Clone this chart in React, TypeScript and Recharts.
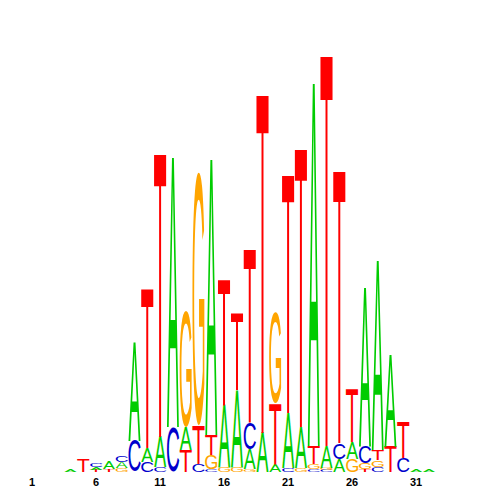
import { Bar, BarChart, XAxis, YAxis } from "recharts";

const positions = [
  1, 2, 3, 4, 5, 6, 7, 8, 9, 10, 11, 12, 13, 14, 15, 16, 17, 18, 19, 20, 21,
  22, 23, 24, 25, 26, 27, 28, 29, 30, 31, 32, 33, 34, 35, 36, 37,
];
const heightA = [
  0, 0, 0, 0.02, 0, 0.03, 0.07, 0.06, 0.98, 0.14, 0.3, 2.69, 0.23, 0, 2.75,
  0.62, 0.77, 0.2, 0.39, 0.08, 0.55, 0.41, 3.62, 0.22, 0.13, 0.17, 1.58, 1.89,
  0.92, 0, 0.03, 0.02, 0, 0, 0, 0, 0,
];
const heightC = [
  0, 0, 0, 0, 0, 0.04, 0, 0.07, 0.31, 0.1, 0.05, 0.45, 0, 0.08, 0.03, 0, 0,
  0.26, 0, 0, 0.04, 0, 0.03, 0.02, 0.16, 0, 0.17, 0.05, 0, 0.14, 0, 0, 0, 0, 0,
  0, 0,
];
const heightG = [
  0, 0, 0, 0, 0, 0, 0, 0.04, 0, 0, 0, 0, 1.17, 2.54, 0.14, 0.05, 0.05, 0.03, 0,
  0.91, 0, 0.04, 0.05, 0.02, 0, 0.13, 0.06, 0.07, 0, 0, 0, 0, 0, 0, 0, 0, 0,
];
const heightT = [
  0, 0, 0, 0, 0.13, 0.02, 0.03, 0, 0, 1.59, 2.82, 0, 0.22, 0.38, 0.2, 1.25,
  0.77, 1.73, 3.37, 0.6, 2.37, 2.77, 0.18, 3.89, 2.71, 0.52, 0.03, 0.1, 0.25,
  0.36, 0, 0, 0, 0, 0, 0, 0,
];
const tickLabels = ["1", "6", "11", "16", "21", "26", "31"];

const COLORS: Record<string, string> = {
  A: "#00cc00",
  C: "#0000cc",
  G: "#ffa500",
  T: "#ff0000",
};

// Liberation Sans glyph boxes (font units, 2048/em)
const GLYPH: Record<string, [number, number, number, number]> = {
  A: [-3, 0, 1369, 1409],
  C: [103, -25, 1382, 1434],
  G: [110, -25, 1458, 1434],
  T: [50, 0, 1202, 1409],
};

const LAYERS = [0, 1, 2, 3];

// stack letters smallest at the bottom
const rows = positions.map((pos, i) => {
  const letters = [
    ["A", heightA[i]],
    ["C", heightC[i]],
    ["G", heightG[i]],
    ["T", heightT[i]],
  ] as [string, number][];
  letters.sort((a, b) => a[1] - b[1]);
  const row: Record<string, any> = { pos };
  letters.forEach(([l, h], k) => {
    row[`h${k}`] = h;
    row[`l${k}`] = l;
  });
  return row;
});

function letterShape(layer: number) {
  return (props: any) => {
    const { x, y, width, height, payload } = props;
    const letter = payload?.[`l${layer}`];
    if (!letter || !height || height < 0.3) return <g />;
    const [x0, y0, x1, y1] = GLYPH[letter];
    const fs = 100;
    const k = fs / 2048;
    const sx = width / ((x1 - x0) * k);
    const sy = height / ((y1 - y0) * k);
    return (
      <text
        x={0}
        y={0}
        fontSize={fs}
        fontFamily="Liberation Sans, Arial, sans-serif"
        fill={COLORS[letter]}
        transform={`translate(${x},${y + height}) scale(${sx},${sy}) translate(${-x0 * k},${y0 * k})`}
      >
        {letter}
      </text>
    );
  };
}

export default function App() {
  return (
    <div style={{ position: "absolute", left: 0, top: 0, width: 500, height: 500, background: "#fff" }}>
      <BarChart
        width={500}
        height={500}
        data={rows}
        barCategoryGap="4%"
        margin={{ top: 22, right: 0.8, left: 25.6, bottom: 8 }}
      >
        <XAxis
          dataKey="pos"
          interval={0}
          axisLine={false}
          tickLine={false}
          tickSize={0}
          tickMargin={6}
          height={20}
          tick={{ fontSize: 11, fontWeight: "bold", fill: "#000", fontFamily: "Liberation Sans, Arial, sans-serif" }}
          tickFormatter={(v) => (tickLabels.includes(String(v)) ? String(v) : "")}
        />
        <YAxis hide type="number" domain={[0, 4.5]} allowDataOverflow />
        {LAYERS.map((k) => (
          <Bar
            key={k}
            dataKey={`h${k}`}
            stackId="logo"
            shape={letterShape(k)}
            isAnimationActive={false}
          />
        ))}
      </BarChart>
    </div>
  );
}
